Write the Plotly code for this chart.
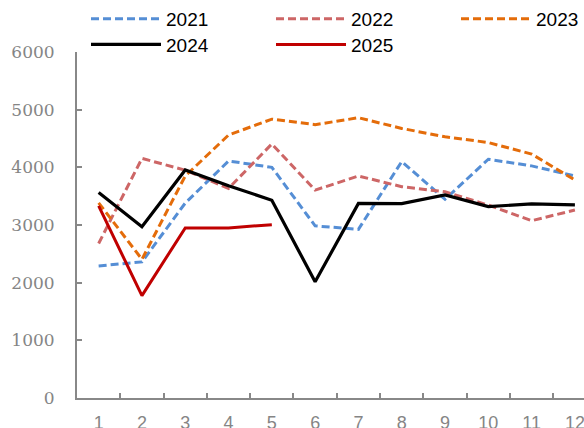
import plotly.graph_objects as go

# Monthly values per year
months = ["1", "2", "3", "4", "5", "6", "7", "8", "9", "10", "11", "12"]
y2021 = [2290, 2360, 3380, 4110, 4000, 2985, 2925, 4100, 3445, 4140, 4025, 3850]
y2022 = [2680, 4155, 3950, 3635, 4405, 3605, 3850, 3665, 3575, 3345, 3075, 3260]
y2023 = [3385, 2405, 3850, 4560, 4835, 4740, 4860, 4675, 4530, 4430, 4230, 3780]
y2024 = [3565, 2970, 3955, 3680, 3430, 2015, 3375, 3370, 3520, 3320, 3365, 3350]
y2025 = [3330, 1775, 2950, 2950, 3005]

y_ticks = [0, 1000, 2000, 3000, 4000, 5000, 6000]

W, H = 584, 428
AXIS_GRAY = "#888888"
LABEL_GRAY = "#858585"

series = [
    ("2021", y2021, "#558ED5", "8px,4px", 3, "legend", 100),
    ("2022", y2022, "#CD6666", "8px,4px", 3, "legend", 100),
    ("2023", y2023, "#E46C0A", "8px,4px", 3, "legend", 45),
    ("2024", y2024, "#000000", "solid", 3.2, "legend2", 100),
    ("2025", y2025, "#C00000", "solid", 3, "legend2", 100),
]

fig = go.Figure()
for name, vals, color, dash, width, leg, lw in series:
    fig.add_trace(go.Scatter(
        x=months[:len(vals)], y=vals, name=name, mode="lines",
        line=dict(color=color, width=width, dash=dash),
        legend=leg, legendwidth=lw,
    ))

legend_common = dict(
    orientation="h", xref="container", yref="container",
    xanchor="left", yanchor="top", bgcolor="rgba(0,0,0,0)",
    itemwidth=70, font=dict(family="Liberation Sans, Arial", size=19, color="#000000"),
    traceorder="normal",
)

fig.update_layout(
    width=W, height=H,
    margin=dict(l=0, r=0, t=52, b=30, pad=0, autoexpand=False),
    paper_bgcolor="white", plot_bgcolor="white",
    showlegend=True,
    legend=dict(x=86 / W, y=1.0, **legend_common),
    legend2=dict(x=86 / W, y=1 - 25.6 / H, **legend_common),
    xaxis=dict(
        type="category", domain=[77 / W, 1], range=[-0.5, 11.21],
        showline=True, linecolor=AXIS_GRAY, linewidth=2,
        ticks="inside", tickson="boundaries", ticklen=5, tickwidth=2, tickcolor=AXIS_GRAY,
        showgrid=False, zeroline=False, automargin=False,
        tickfont=dict(family="Liberation Sans, Arial", size=18, color=LABEL_GRAY),
        ticklabelstandoff=7,
    ),
    yaxis=dict(
        range=[0, 6000], tickvals=y_ticks,
        showline=True, linecolor=AXIS_GRAY, linewidth=2,
        ticks="inside", ticklen=5, tickwidth=2, tickcolor=AXIS_GRAY,
        showgrid=False, zeroline=False, automargin=False,
        tickfont=dict(family="DejaVu Serif", size=17, color=LABEL_GRAY),
        ticklabelstandoff=17,
    ),
)

fig.write_html("out.html")
